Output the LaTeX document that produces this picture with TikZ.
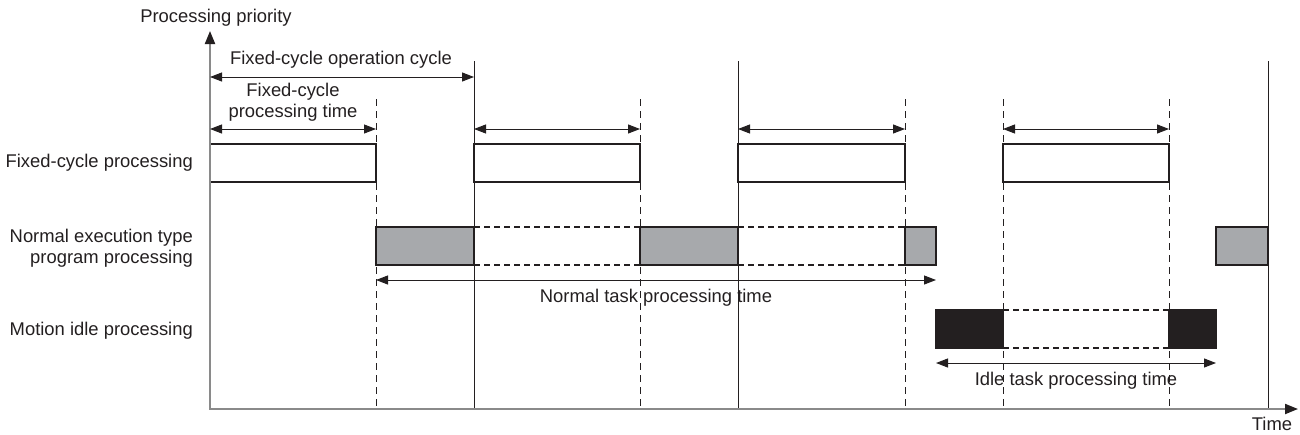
\documentclass[tikz,border=0pt]{standalone}
\usepackage{fontspec}
\setmainfont{Liberation Sans}
\usetikzlibrary{arrows.meta}
\definecolor{ink}{HTML}{231F20}
\definecolor{axisgray}{HTML}{8A8A8A}
\definecolor{boxgray}{HTML}{A7A9AC}
\tikzset{
  lbl/.style={text=ink, inner sep=0pt},
  fcbox/.style={draw=ink, line width=1.3pt, fill=white},
  nbox/.style={draw=ink, line width=1.3pt, fill=boxgray},
  ibox/.style={draw=ink, fill=ink, line width=1.3pt},
  dimarrow/.style={draw=ink, line width=1pt, {Triangle[length=12pt,width=9pt]}-{Triangle[length=12pt,width=9pt]}},
  gridsolid/.style={draw=ink, line width=1pt},
  griddash/.style={draw=ink, line width=1pt, dash pattern=on 7pt off 5pt},
  hdash/.style={draw=ink, line width=1.2pt, dash pattern=on 6pt off 4pt},
  axisline/.style={draw=axisgray, line width=2pt, {Triangle[length=13pt,width=10pt,color=ink]}-{Triangle[length=13pt,width=10pt,color=ink]}},
}
\begin{document}
\begin{tikzpicture}[x=1pt,y=-1pt,font=\fontsize{18.4}{21.5}\selectfont]
\useasboundingbox (0,0) rectangle (1300,434);

% axes
\coordinate (O) at (210,409);
\coordinate (Ytip) at (210,31);
\coordinate (Xtip) at (1298,409);

% vertical time marks
\foreach \n/\x in {a/376,c/640,e/905,f/1003,h/1169}{
  \coordinate (\n top) at (\x,99);
  \coordinate (\n bot) at (\x,409);
  \draw[griddash] (\n top) -- (\n bot);
}
\foreach \n/\x in {b/474,d/738,g/1268}{
  \coordinate (\n top) at (\x,61);
  \coordinate (\n bot) at (\x,409);
  \draw[gridsolid] (\n top) -- (\n bot);
}

% fixed-cycle boxes
\draw[fcbox] (210,144) rectangle (376,182);
\draw[fcbox] (474,144) rectangle (640,182);
\draw[fcbox] (738,144) rectangle (905,182);
\draw[fcbox] (1003,144) rectangle (1169,182);

% normal execution boxes
\draw[hdash] (474,227) -- (640,227) (474,265) -- (640,265);
\draw[hdash] (738,227) -- (905,227) (738,265) -- (905,265);
\draw[nbox] (376,227) rectangle (474,265);
\draw[nbox] (640,227) rectangle (738,265);
\draw[nbox] (905,227) rectangle (936,265);
\draw[nbox] (1216,227) rectangle (1268,265);

% idle boxes
\draw[hdash] (1003,310) -- (1169,310) (1003,348) -- (1169,348);
\draw[ibox] (936,310) rectangle (1003,348);
\draw[ibox] (1169,310) rectangle (1216,348);

% axes on top
\draw[axisline] (Ytip) -- (O) -- (Xtip);

% dimension arrows
\coordinate (cycL) at (210,77);
\coordinate (cycR) at (474,77);
\draw[dimarrow] (cycL) -- (cycR);
\coordinate (p1L) at (210,129);
\coordinate (p1R) at (376,129);
\draw[dimarrow] (p1L) -- (p1R);
\coordinate (p2L) at (474,129);
\coordinate (p2R) at (640,129);
\draw[dimarrow] (p2L) -- (p2R);
\coordinate (p3L) at (738,129);
\coordinate (p3R) at (905,129);
\draw[dimarrow] (p3L) -- (p3R);
\coordinate (p4L) at (1003,129);
\coordinate (p4R) at (1169,129);
\draw[dimarrow] (p4L) -- (p4R);
\coordinate (nL) at (376,280);
\coordinate (nR) at (936,280);
\draw[dimarrow] (nL) -- (nR);
\coordinate (iL) at (936,363);
\coordinate (iR) at (1216,363);
\draw[dimarrow] (iL) -- (iR);

% texts
\node[lbl] (ppri) at (216,18) {Processing priority};
\node[lbl] (time) at (1272,424) {Time};
\node[lbl] (cyc) at (341,60) {Fixed-cycle operation cycle};
\node[lbl, align=center] (fpt) at (293,102) {Fixed-cycle\\processing time};
\node[lbl] (ntpt) at (656,298) {Normal task processing time};
\node[lbl] (itpt) at (1076,381) {Idle task processing time};
\node[lbl, anchor=east] (rfc) at (193,163) {Fixed-cycle processing};
\node[lbl, anchor=east, align=right] (rne) at (193,248) {Normal execution type\\program processing};
\node[lbl, anchor=east] (rmi) at (193,331) {Motion idle processing};
\end{tikzpicture}
\end{document}
